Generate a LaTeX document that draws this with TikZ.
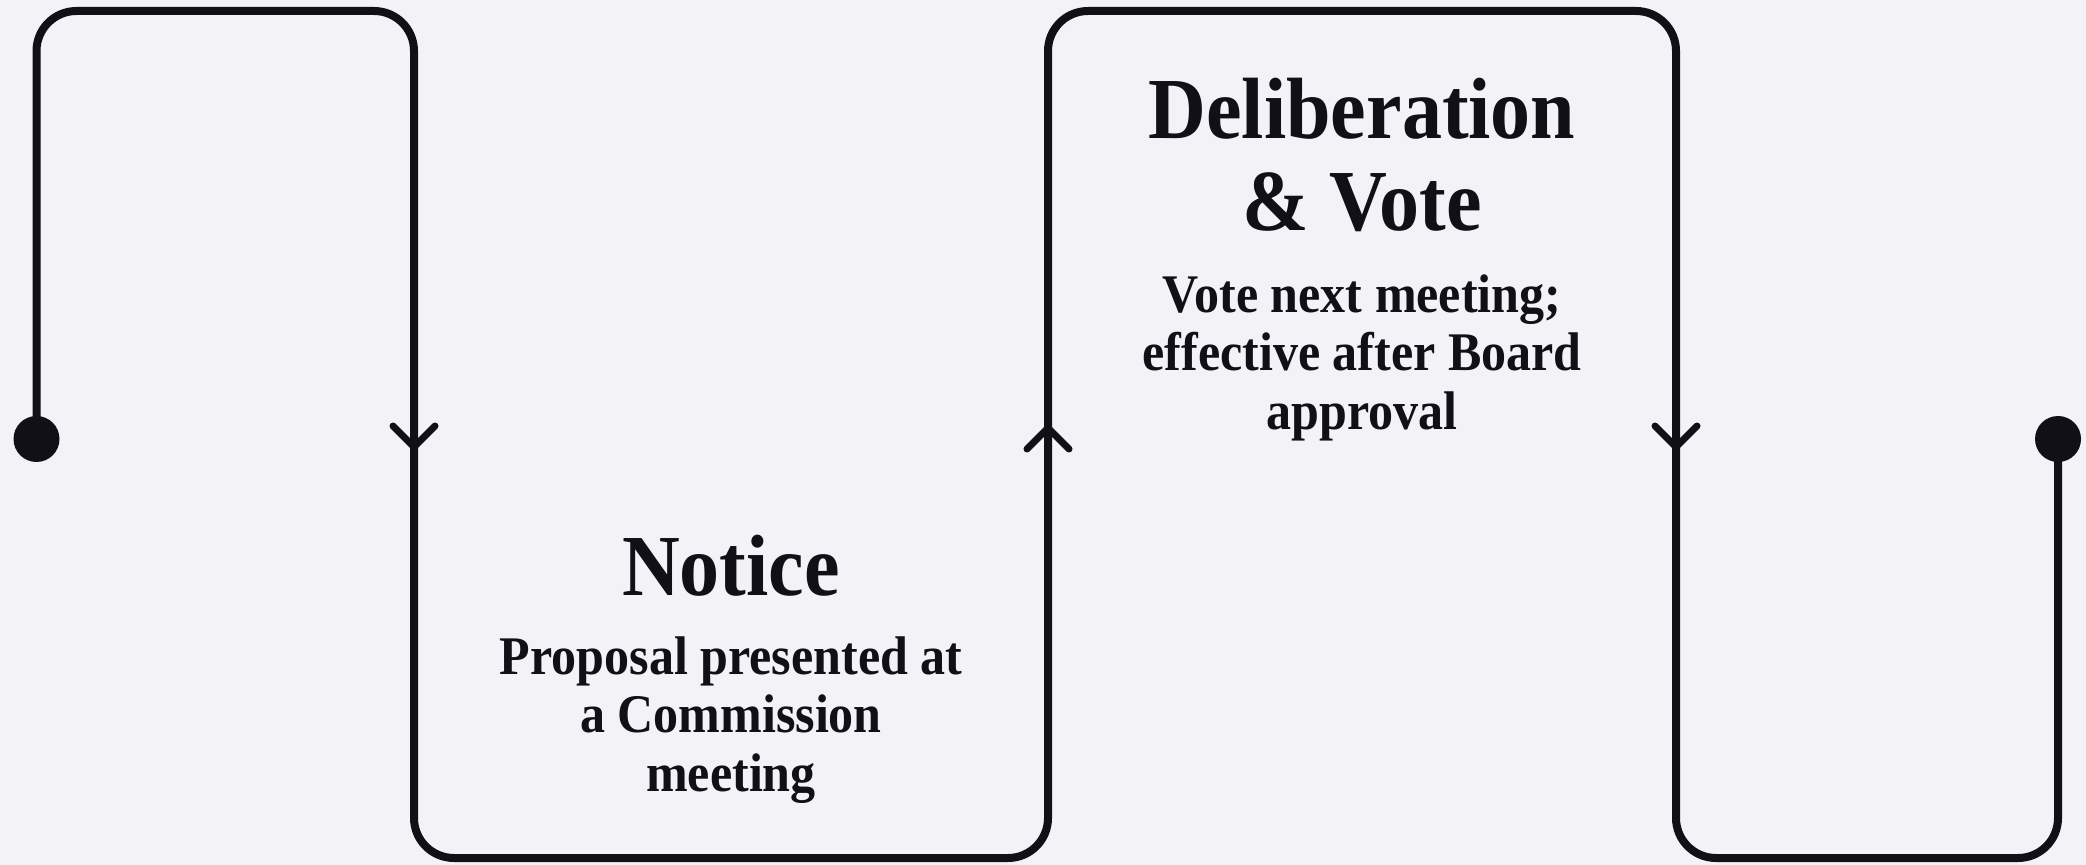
\documentclass[tikz,border=0pt]{standalone}
\usepackage{fontspec}
\newfontfamily\stagefont[FakeStretch=0.92]{Liberation Serif}
\definecolor{paper}{RGB}{242,242,247}
\definecolor{ink}{RGB}{17,16,22}
\begin{document}
\begin{tikzpicture}[x=0.5pt,y=-0.5pt,
  track/.style={draw=ink,line width=4pt,rounded corners=20pt},
  chevron/.style={draw=ink,line width=3.5pt,line cap=round,line join=round},
  endpoint/.style={circle,fill=ink,minimum size=23pt,inner sep=0pt},
  heading/.style={font=\stagefont\bfseries\fontsize{43.5}{46}\selectfont,text=ink,align=center,inner sep=0pt,anchor=north},
  detail/.style={font=\stagefont\bfseries\fontsize{27.2}{29.25}\selectfont,text=ink,align=center,inner sep=0pt,anchor=north},
]
% canvas
\fill[paper] (0,0) rectangle (2086,865);
\useasboundingbox (0,0) rectangle (2086,865);

% the two ends of the meandering track
\node[endpoint] (start) at (36.5,439) {};
\node[endpoint] (finish) at (2058,439) {};

% meandering track
\draw[track] (start.center) -- (36.5,11) -- (414,11) -- (414,858)
  -- (1048,858) -- (1048,11) -- (1676,11) -- (1676,858)
  -- (2058,858) -- (finish.center);

% direction chevrons
\draw[chevron] (393,426) -- (414,447) -- (435,426);
\draw[chevron] (1027,449) -- (1048,428) -- (1069,449);
\draw[chevron] (1655,426) -- (1676,447) -- (1697,426);

% stage texts
\node[heading] (noticehead) at (731,535) {Notice};
\node[detail] (noticetext) at (731,636) {Proposal presented at\\a Commission\\meeting};
\node[heading] (votehead) at (1362,78) {Deliberation\\\& Vote};
\node[detail] (votetext) at (1362,274) {Vote next meeting;\\effective after Board\\approval};
\end{tikzpicture}
\end{document}
